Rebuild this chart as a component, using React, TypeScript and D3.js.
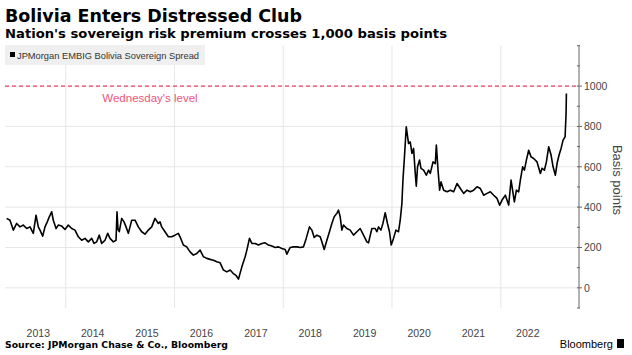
import React from "react";
import * as d3 from "d3";

const years = [2012.914,2012.975,2013.036,2013.098,2013.159,2013.220,2013.282,2013.343,2013.404,2013.454,2013.496,2013.527,2013.577,2013.619,2013.661,2013.698,2013.742,2013.772,2013.822,2013.864,2013.926,2013.987,2014.048,2014.110,2014.171,2014.232,2014.294,2014.355,2014.416,2014.478,2014.521,2014.570,2014.618,2014.662,2014.723,2014.773,2014.815,2014.876,2014.926,2014.944,2014.962,2014.986,2015.030,2015.073,2015.110,2015.152,2015.183,2015.214,2015.275,2015.336,2015.398,2015.459,2015.520,2015.582,2015.643,2015.704,2015.735,2015.766,2015.827,2015.888,2015.950,2016.011,2016.072,2016.103,2016.164,2016.226,2016.287,2016.348,2016.410,2016.471,2016.532,2016.594,2016.655,2016.716,2016.778,2016.839,2016.900,2016.962,2017.023,2017.084,2017.134,2017.176,2017.238,2017.299,2017.330,2017.378,2017.422,2017.483,2017.544,2017.606,2017.667,2017.728,2017.790,2017.851,2017.912,2017.974,2018.035,2018.066,2018.127,2018.188,2018.250,2018.311,2018.372,2018.422,2018.482,2018.526,2018.569,2018.618,2018.679,2018.710,2018.753,2018.802,2018.850,2018.894,2018.937,2018.986,2019.016,2019.047,2019.078,2019.108,2019.170,2019.231,2019.292,2019.354,2019.415,2019.476,2019.538,2019.568,2019.630,2019.691,2019.722,2019.752,2019.796,2019.833,2019.875,2019.917,2019.954,2019.986,2020.028,2020.072,2020.120,2020.151,2020.182,2020.201,2020.225,2020.262,2020.304,2020.335,2020.366,2020.396,2020.427,2020.446,2020.469,2020.506,2020.532,2020.580,2020.630,2020.672,2020.703,2020.753,2020.795,2020.814,2020.845,2020.874,2020.900,2020.948,2021.010,2021.071,2021.132,2021.194,2021.255,2021.316,2021.378,2021.439,2021.500,2021.562,2021.623,2021.684,2021.746,2021.807,2021.868,2021.930,2021.978,2022.022,2022.083,2022.144,2022.188,2022.225,2022.249,2022.286,2022.328,2022.359,2022.401,2022.433,2022.470,2022.512,2022.556,2022.604,2022.666,2022.727,2022.758,2022.801,2022.838,2022.880,2022.924,2022.961,2023.003,2023.034,2023.071,2023.108,2023.145,2023.182,2023.200,2023.206];

const spread = [344,335,286,319,302,311,294,302,270,360,302,286,256,302,327,352,377,335,294,311,306,289,311,294,286,253,236,245,228,245,220,228,261,220,236,270,245,228,236,377,290,278,344,327,302,270,302,335,335,302,278,266,286,302,344,319,327,302,278,253,253,261,270,253,212,203,178,162,170,187,154,146,141,137,129,124,88,79,88,70,60,43,104,154,187,245,220,220,212,220,223,212,207,200,203,195,190,167,200,203,203,200,203,245,302,286,250,261,253,228,190,236,278,319,352,369,385,352,286,311,294,286,261,278,294,261,228,223,294,294,278,302,286,319,372,319,278,212,245,286,278,335,418,534,633,798,715,723,666,691,567,504,600,633,592,583,558,583,567,624,616,707,583,484,525,484,476,484,476,517,492,468,484,476,484,501,492,459,468,476,459,443,410,435,459,410,534,468,426,484,476,534,600,583,633,682,649,641,624,567,592,583,624,699,658,600,558,616,658,691,732,748,864,963];

const yearLabels = [2013,2014,2015,2016,2017,2018,2019,2020,2021,2022];
const gridYears = [2014,2016,2018,2020,2022];
const majorTicks = [0,200,400,600,800,1000];
const minorTicks = [-100,100,300,500,700,900,1100,1200];
const levelValue = 1000;

const title = "Bolivia Enters Distressed Club";
const subtitle = "Nation's sovereign risk premium crosses 1,000 basis points";
const legendLabel = "JPMorgan EMBIG Bolivia Sovereign Spread";
const levelLabel = "Wednesday's level";
const yAxisTitle = "Basis points";
const source = "Source: JPMorgan Chase & Co., Bloomberg";

function toDate(y: number): Date {
  const yr = Math.floor(y);
  const s = new Date(yr, 0, 1).getTime();
  const e = new Date(yr + 1, 0, 1).getTime();
  return new Date(s + (y - yr) * (e - s));
}

export default function App() {
  const W = 632, H = 355;
  const plotLeft = 5, axisX = 579, top = 45.7, bottom = 308;
  const x = d3.scaleTime().domain([new Date(2013, 0, 1), new Date(2023, 0, 1)]).range([11.35, 555.2]);
  const y = d3.scaleLinear().domain([-100, 1200]).range([bottom, top]);
  const pts = years.map((yr, i) => [toDate(yr), spread[i]] as [Date, number]);
  const line = d3.line<[Date, number]>().x(d => x(d[0])).y(d => y(d[1]));
  const font = "'Liberation Sans', Arial, sans-serif";
  const wide = "'DejaVu Sans', Verdana, sans-serif";
  return (
    <svg width={W} height={H} style={{ position: "absolute", left: 0, top: 0, background: "#fff" }} fontFamily={font}>
      <rect width={W} height={H} fill="#fff" />
      <text x={5} y={21.5} fontSize={17} fontWeight="bold" fill="#000" fontFamily={wide} textLength={297} lengthAdjust="spacingAndGlyphs">{title}</text>
      <text x={5} y={37.5} fontSize={12.5} fontWeight="bold" fill="#000" fontFamily={wide} textLength={442} lengthAdjust="spacingAndGlyphs">{subtitle}</text>
      {majorTicks.map(t => (
        <line key={"h" + t} x1={plotLeft} x2={axisX} y1={y(t)} y2={y(t)} stroke="#e6e6e6" strokeWidth={1} />
      ))}
      {gridYears.map(g => (
        <line key={"v" + g} x1={x(new Date(g, 0, 1))} x2={x(new Date(g, 0, 1))} y1={top} y2={bottom} stroke="#e6e6e6" strokeWidth={1} />
      ))}
      <rect x={5} y={45} width={200} height={20} fill="#efefef" />
      <rect x={10} y={52} width={5} height={5} fill="#000" />
      <text x={17} y={58.5} fontSize={9.2} fill="#333" textLength={182} lengthAdjust="spacingAndGlyphs">{legendLabel}</text>
      <line x1={plotLeft} x2={axisX} y1={y(levelValue)} y2={y(levelValue)} stroke="#e8436b" strokeWidth={1.3} strokeDasharray="4,3" />
      <text x={150} y={101.5} fontSize={11.5} fill="#f0557a" textAnchor="middle">{levelLabel}</text>
      <path d={line(pts) || ""} fill="none" stroke="#000" strokeWidth={1.6} strokeLinejoin="round" />
      <line x1={axisX} x2={axisX} y1={top} y2={bottom} stroke="#666" strokeWidth={1} />
      {majorTicks.map(t => (
        <g key={"t" + t}>
          <line x1={axisX - 2} x2={axisX + 3} y1={y(t)} y2={y(t)} stroke="#666" />
          <text x={axisX + 5} y={y(t) + 3.8} fontSize={10.5} fill="#444">{t}</text>
        </g>
      ))}
      {minorTicks.map(t => (
        <line key={"m" + t} x1={axisX - 2} x2={axisX + 1} y1={y(t)} y2={y(t)} stroke="#666" />
      ))}
      <text transform={`translate(613,180) rotate(90)`} fontSize={13} fill="#444" textAnchor="middle">{yAxisTitle}</text>
      {yearLabels.map(yr => (
        <text key={"y" + yr} x={x(new Date(yr, 6, 1))} y={337} fontSize={10.5} fill="#444" textAnchor="middle">{yr}</text>
      ))}
      <text x={5} y={348} fontSize={9} fontWeight="bold" fill="#000" fontFamily={wide} textLength={223} lengthAdjust="spacingAndGlyphs">{source}</text>
      <text x={613} y={348} fontSize={11} fill="#000" textAnchor="end">Bloomberg</text>
      <rect x={617} y={339} width={7} height={9} fill="#000" />
    </svg>
  );
}
